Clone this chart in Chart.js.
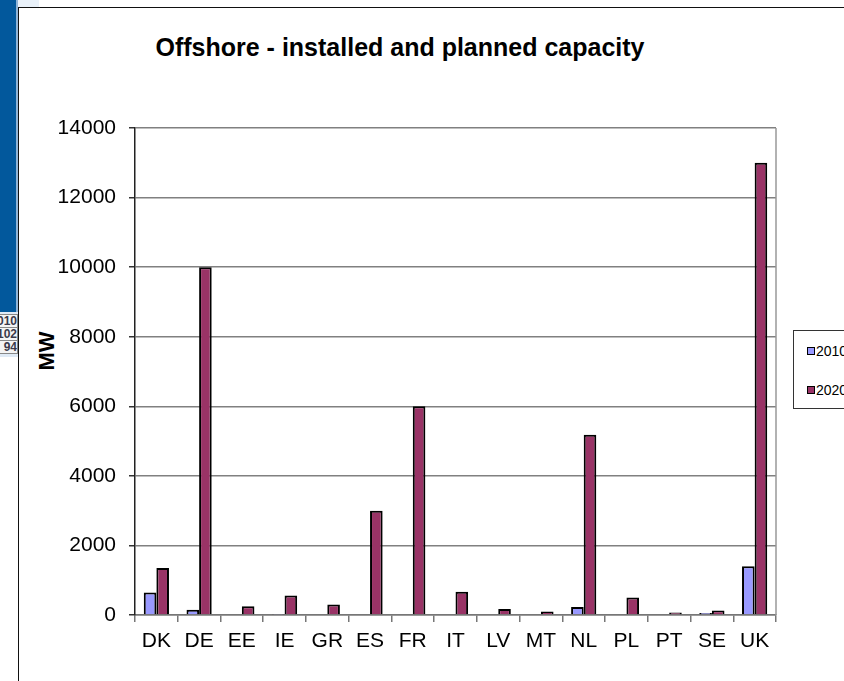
<!DOCTYPE html>
<html>
<head>
<meta charset="utf-8">
<script src="https://cdn.jsdelivr.net/npm/chart.js@4.4.1/dist/chart.umd.min.js"></script>
<style>
  html, body { margin: 0; padding: 0; width: 844px; height: 681px; overflow: hidden; background: #fff; font-family: "Liberation Sans", Arial, sans-serif; }
  #bgBlue { position: absolute; left: 0; top: 0; width: 16px; height: 312px; background: #02589c; }
  #bgBlueEdge { position: absolute; left: 16px; top: 0; width: 2px; height: 312px; background: #8fb4d8; }
  #bgTop { position: absolute; left: 18px; top: 0; width: 21px; height: 7px; background: #e9f1f9; }
  #cells { position: absolute; left: 0; top: 312px; width: 18px; height: 45px; background: #dfeaf6; }
  .cell { position: absolute; left: 0; width: 17px; height: 12px; border: 1px solid #888; border-left: none; background: #f4f4f4; font-size: 12px; font-weight: bold; line-height: 12px; color: #3a3a4a; text-align: right; overflow: hidden; white-space: nowrap; direction: rtl; }
  #frame { position: absolute; left: 18px; top: 7px; width: 900px; height: 800px; border-left: 1.5px solid #111; border-top: 1.5px solid #111; background: #fff; }
  #title { position: absolute; left: 0px; width: 800px; top: 33px; text-align: center; font-weight: bold; font-size: 25px; color: #000; white-space: nowrap; }
  #ytitle { position: absolute; left: 47px; top: 351px; transform: translate(-50%, -50%) rotate(-90deg); font-weight: bold; font-size: 22px; color: #000; }
  #legend { position: absolute; left: 793px; top: 330px; width: 80px; height: 77px; border: 1px solid #333; background: #fff; font-size: 14px; }
  .li { position: absolute; left: 13px; height: 14px; line-height: 14px; color: #000; white-space: nowrap; }
  .sw { display: inline-block; width: 6px; height: 6px; border: 1.5px solid #000; margin-right: 1px; vertical-align: 1px; }
  canvas { position: absolute; left: 0; top: 0; }
</style>
</head>
<body>
<div id="bgBlue"></div>
<div id="bgBlueEdge"></div>
<div id="bgTop"></div>
<div id="cells">
  <div class="cell" style="top:2px">2010</div>
  <div class="cell" style="top:15px">102</div>
  <div class="cell" style="top:28px">94</div>
</div>
<div id="frame"></div>
<div id="title">Offshore - installed and planned capacity</div>
<div id="ytitle">MW</div>
<div id="legend">
  <div class="li" style="top:13px"><span class="sw" style="background:#9999ff"></span>2010</div>
  <div class="li" style="top:52px"><span class="sw" style="background:#993366"></span>2020</div>
</div>
<canvas id="c" width="844" height="681"></canvas>
<script>
const categories = ["DK","DE","EE","IE","GR","ES","FR","IT","LV","MT","NL","PL","PT","SE","UK"];
const series2010 = [650, 150, 0, 30, 0, 0, 0, 0, 0, 0, 230, 0, 0, 60, 1400];
const series2020 = [1350, 10000, 250, 560, 300, 3000, 6000, 670, 170, 100, 5180, 500, 70, 130, 13000];
const yTicks = [0, 2000, 4000, 6000, 8000, 10000, 12000, 14000];

const rightBorder = {
  id: 'rightBorder',
  afterDraw(chart) {
    const {ctx, chartArea: a} = chart;
    ctx.save();
    ctx.strokeStyle = '#999';
    ctx.lineWidth = 1.5;
    ctx.beginPath();
    ctx.moveTo(a.right, a.top);
    ctx.lineTo(a.right, a.bottom);
    ctx.stroke();
    ctx.restore();
  }
};

const axisFont = { family: '"Liberation Sans", Arial, sans-serif', size: 21 };

new Chart(document.getElementById('c'), {
  type: 'bar',
  data: {
    labels: categories,
    datasets: [
      { label: '2010', data: series2010, backgroundColor: '#9999ff', borderColor: '#000', borderWidth: 2 },
      { label: '2020', data: series2020, backgroundColor: '#993366', borderColor: '#000', borderWidth: 2 }
    ]
  },
  options: {
    responsive: false,
    animation: false,
    devicePixelRatio: 1,
    layout: { padding: { left: 0, right: 68, top: 128, bottom: 0 } },
    datasets: { bar: { categoryPercentage: 0.59, barPercentage: 1.0 } },
    plugins: { legend: { display: false }, title: { display: false }, tooltip: { enabled: false } },
    scales: {
      x: {
        afterFit(s) { s.height = 66; },
        grid: { drawOnChartArea: false, drawTicks: true, tickLength: 7, color: '#777', offset: true, lineWidth: 1.5 },
        border: { color: '#777', width: 1.5 },
        ticks: { color: '#000', font: axisFont, padding: 7, maxRotation: 0, autoSkip: false }
      },
      y: {
        min: 0, max: 14000,
        afterFit(s) { s.width = 135; },
        afterBuildTicks(s) { s.ticks = yTicks.map(v => ({ value: v })); },
        grid: { color: '#808080', lineWidth: 1.5, tickLength: 6, tickColor: '#333' },
        border: { color: '#222', width: 1.5 },
        ticks: { color: '#000', font: axisFont, padding: 13, callback: v => String(v) }
      }
    }
  },
  plugins: [rightBorder]
});
</script>
</body>
</html>
